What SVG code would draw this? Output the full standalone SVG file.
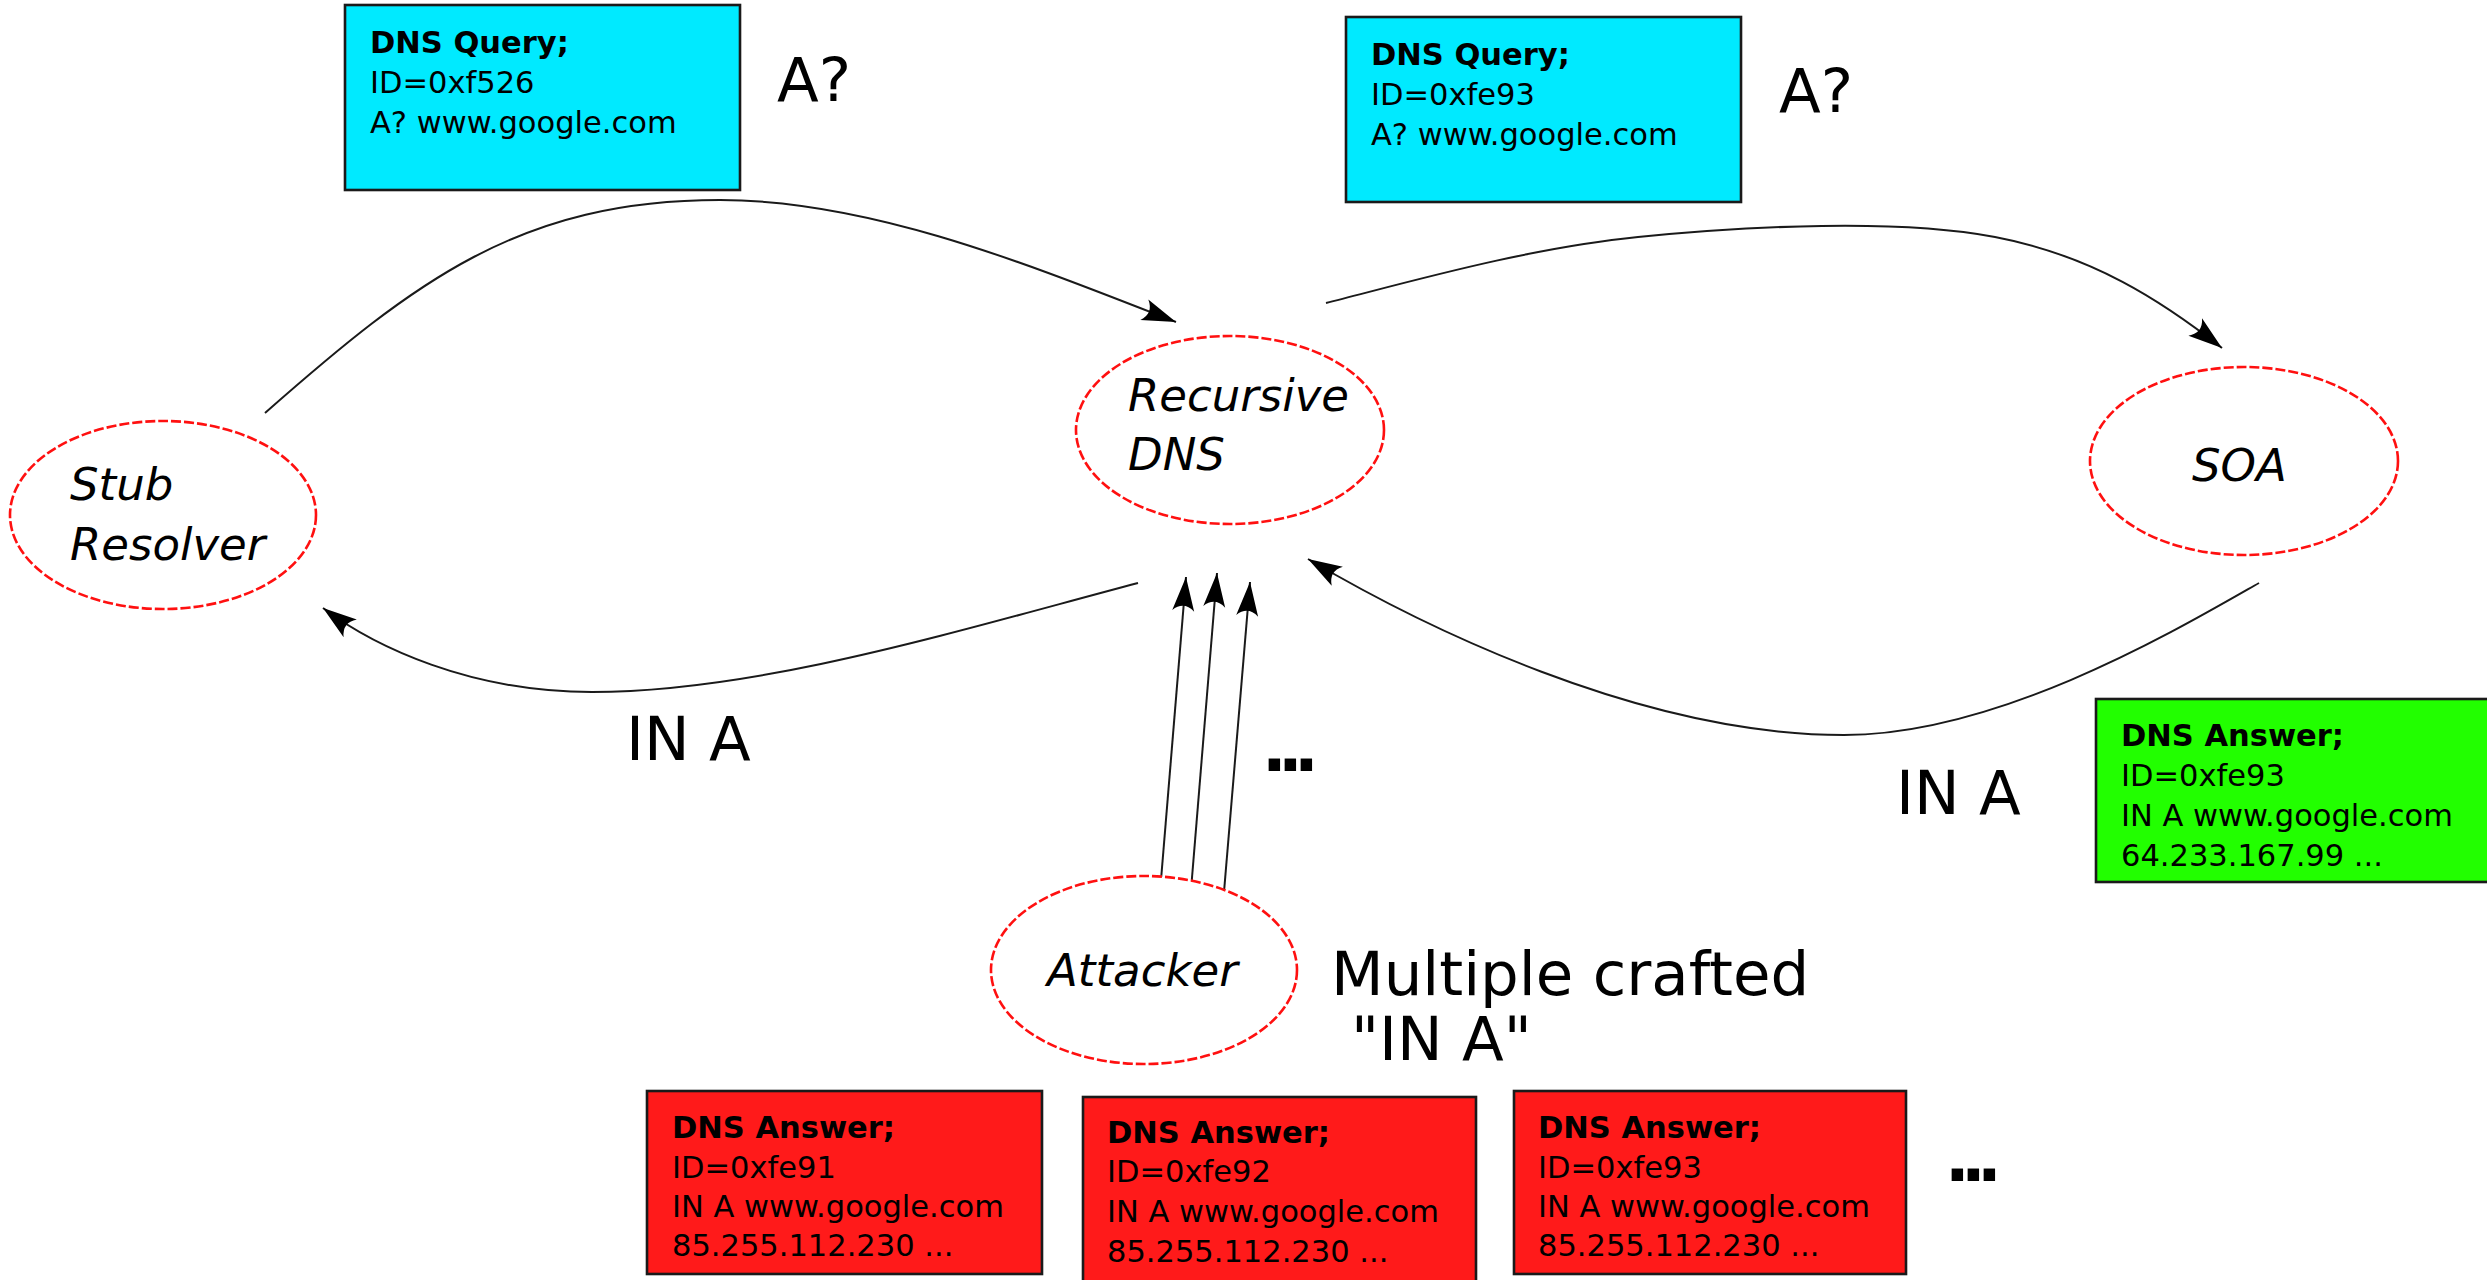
<svg xmlns="http://www.w3.org/2000/svg" width="2487" height="1280" viewBox="0 0 2487 1280">
<style>
.bg{fill:#ffffff}
.node ellipse{fill:#ffffff;stroke:#ff1010;stroke-width:2.6;stroke-dasharray:10,3}
.nl{font-family:"DejaVu Sans","Liberation Sans",sans-serif;font-size:45px;font-style:italic;fill:#000}
.box{stroke:#1a1a1a;stroke-width:2.6}
.cyan{fill:#00eaff}
.green{fill:#22ff00}
.red{fill:#ff1a1a}
.bt{font-family:"DejaVu Sans","Liberation Sans",sans-serif;font-size:30.5px;fill:#000}
.bt .h{font-weight:bold}
.big{font-family:"DejaVu Sans","Liberation Sans",sans-serif;font-size:61px;fill:#000}
.dots{font-family:"DejaVu Sans","Liberation Sans",sans-serif;font-size:65px;font-weight:bold;letter-spacing:-8.7px;fill:#000}
.conn path,.conn line{fill:none;stroke:#1a1a1a;stroke-width:2;marker-end:url(#arrow)}
</style>
<defs>
<marker id="arrow" viewBox="-36 -13 38 26" markerWidth="38" markerHeight="26" refX="0" refY="0" orient="auto" markerUnits="userSpaceOnUse">
<path d="M0,0 L-34,-11 Q-24,0 -34,11 Z" fill="#000"/>
</marker>
</defs>
<rect class="bg" x="0" y="0" width="2487" height="1280"/>

<g class="conn" id="connectors">
<path d="M265,413 C415,281 520,200 720,200 C870,200 1026,263.5 1176,322"/>
<path d="M1326,303 C1409,282 1527.5,248 1638,237 C1749.5,226 1897.7,218.5 1995,237 C2092.3,255.5 2162,301 2222,348"/>
<path d="M2259,583 C2180,628 2000,735 1844,735 C1640,735 1420,625 1308,559"/>
<path d="M1138,583 C960,630 760,692 592,692 C470,692 375,647 323,608"/>
<line x1="1161" y1="880" x2="1186" y2="577"/>
<line x1="1191" y1="890" x2="1217" y2="573"/>
<line x1="1224" y1="892" x2="1250" y2="582"/>
</g>

<g class="node" id="stub">
<ellipse cx="163" cy="515" rx="153" ry="94"/>
<text class="nl" x="70" y="500">Stub</text>
<text class="nl" x="70" y="560">Resolver</text>
</g>

<g class="node" id="recursive">
<ellipse cx="1230" cy="430" rx="154" ry="94"/>
<text class="nl" x="1128" y="411">Recursive</text>
<text class="nl" x="1128" y="470">DNS</text>
</g>

<g class="node" id="soa">
<ellipse cx="2244" cy="461" rx="154" ry="94"/>
<text class="nl" x="2192" y="481">SOA</text>
</g>

<g class="node" id="attacker">
<ellipse cx="1144" cy="970" rx="153" ry="94"/>
<text class="nl" x="1047" y="986">Attacker</text>
</g>

<g id="query1">
<rect class="box cyan" x="345" y="5" width="395" height="185"/>
<text class="bt"><tspan class="h" x="370" y="53">DNS Query;</tspan><tspan x="370" y="93">ID=0xf526</tspan><tspan x="370" y="133">A? www.google.com</tspan></text>
</g>

<g id="query2">
<rect class="box cyan" x="1346" y="17" width="395" height="185"/>
<text class="bt"><tspan class="h" x="1371" y="65">DNS Query;</tspan><tspan x="1371" y="105">ID=0xfe93</tspan><tspan x="1371" y="145">A? www.google.com</tspan></text>
</g>

<g id="answer-soa">
<rect class="box green" x="2096" y="699" width="400" height="183"/>
<text class="bt"><tspan class="h" x="2121" y="746">DNS Answer;</tspan><tspan x="2121" y="786">ID=0xfe93</tspan><tspan x="2121" y="826">IN A www.google.com</tspan><tspan x="2121" y="866">64.233.167.99 ...</tspan></text>
</g>

<g id="answer-fake1">
<rect class="box red" x="647" y="1091" width="395" height="183"/>
<text class="bt"><tspan class="h" x="672" y="1138">DNS Answer;</tspan><tspan x="672" y="1178">ID=0xfe91</tspan><tspan x="672" y="1217">IN A www.google.com</tspan><tspan x="672" y="1256">85.255.112.230 ...</tspan></text>
</g>

<g id="answer-fake2">
<rect class="box red" x="1083" y="1097" width="393" height="190"/>
<text class="bt"><tspan class="h" x="1107" y="1143">DNS Answer;</tspan><tspan x="1107" y="1182">ID=0xfe92</tspan><tspan x="1107" y="1222">IN A www.google.com</tspan><tspan x="1107" y="1262">85.255.112.230 ...</tspan></text>
</g>

<g id="answer-fake3">
<rect class="box red" x="1514" y="1091" width="392" height="183"/>
<text class="bt"><tspan class="h" x="1538" y="1138">DNS Answer;</tspan><tspan x="1538" y="1178">ID=0xfe93</tspan><tspan x="1538" y="1217">IN A www.google.com</tspan><tspan x="1538" y="1256">85.255.112.230 ...</tspan></text>
</g>

<g id="labels">
<text class="big" x="777" y="101">A?</text>
<text class="big" x="1779" y="112">A?</text>
<text class="big" x="626" y="760">IN A</text>
<text class="big" x="1896" y="814">IN A</text>
<text class="big" x="1331" y="995">Multiple crafted</text>
<text class="big" x="1351" y="1060">"IN A"</text>
<text class="dots" x="1262" y="771">...</text>
<text class="dots" x="1945" y="1181">...</text>
</g>
</svg>
